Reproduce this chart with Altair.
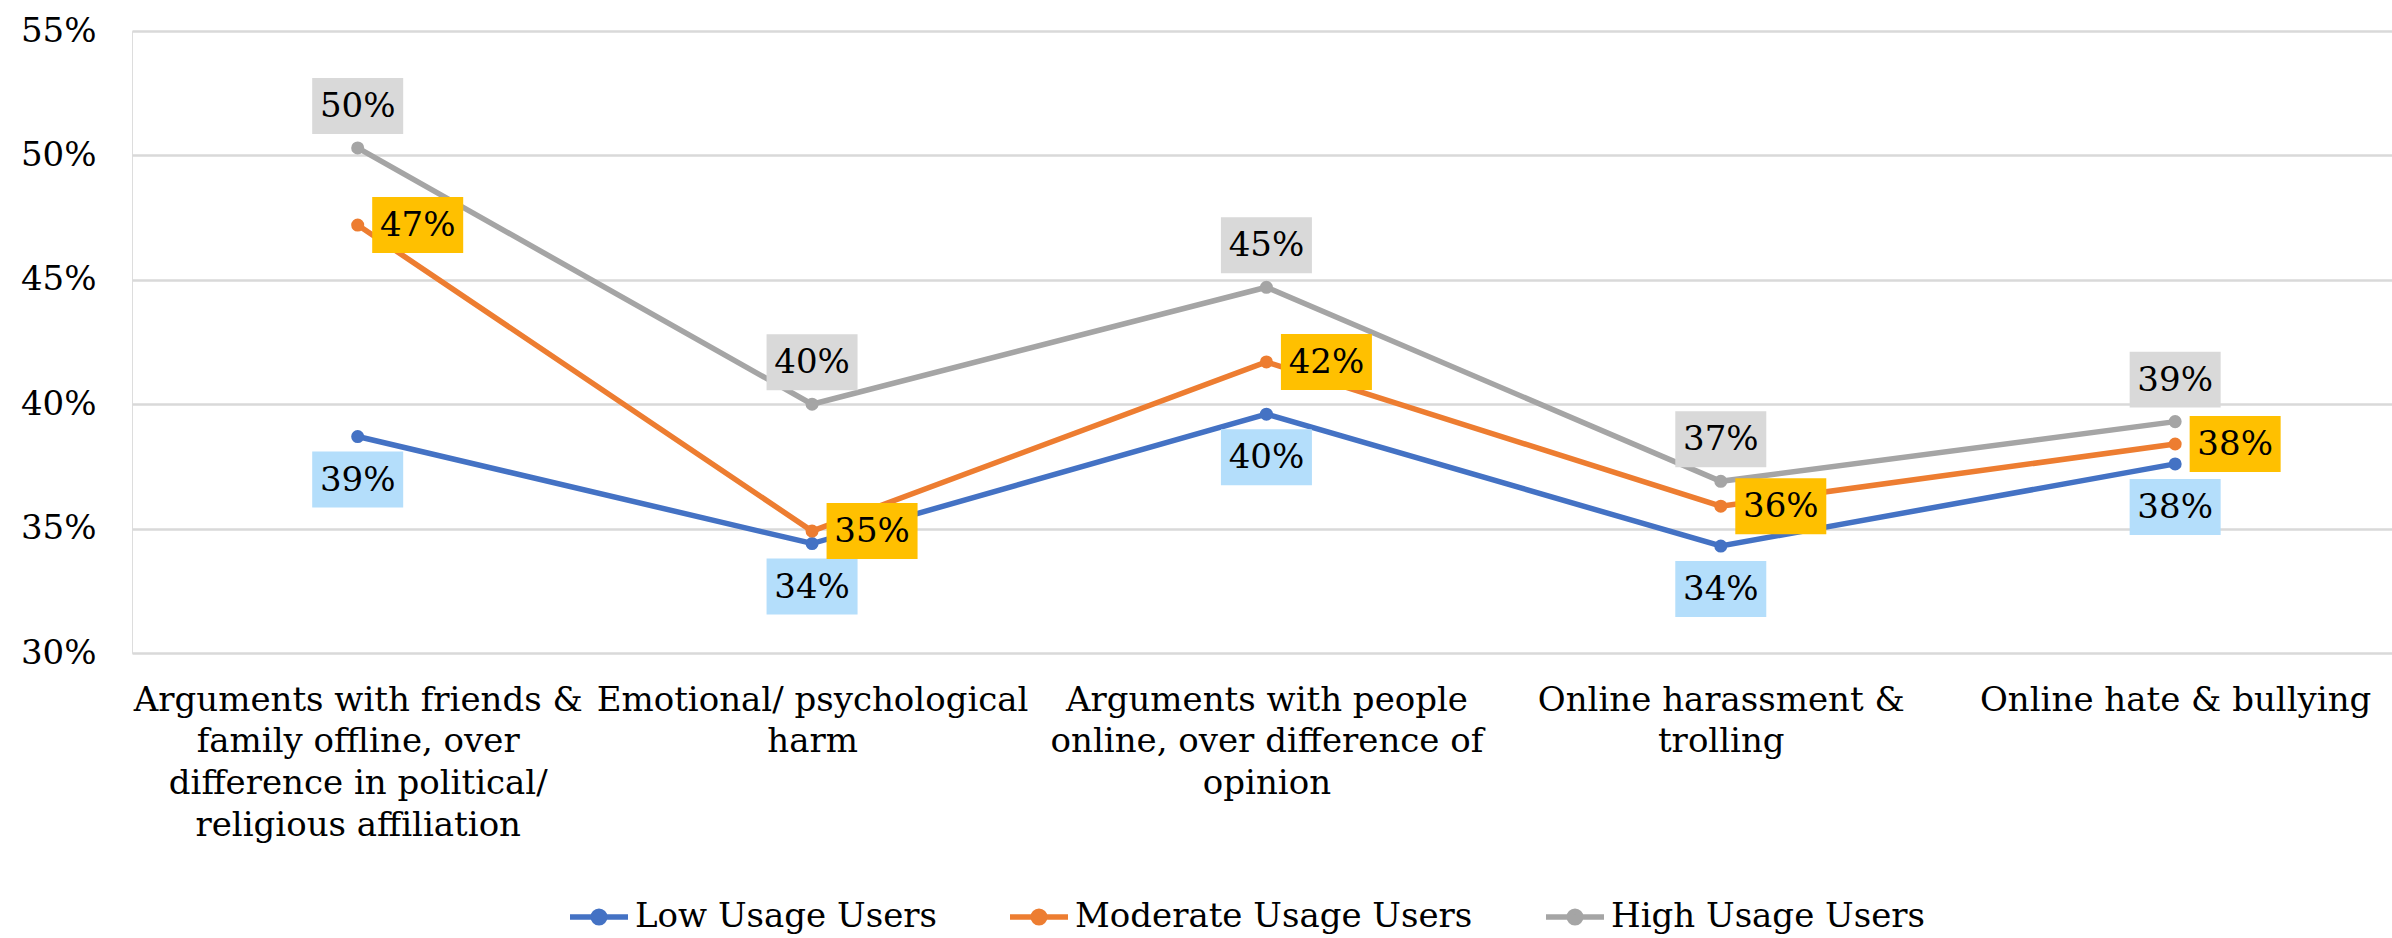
import altair as alt
import pandas as pd

# Categories (x axis) and their wrapped label lines
categories = [
    "Arguments with friends & family offline, over difference in political/ religious affiliation",
    "Emotional/ psychological harm",
    "Arguments with people online, over difference of opinion",
    "Online harassment & trolling",
    "Online hate & bullying",
]
category_lines = [
    ["Arguments with friends &", "family offline, over", "difference in political/", "religious affiliation"],
    ["Emotional/ psychological", "harm"],
    ["Arguments with people", "online, over difference of", "opinion"],
    ["Online harassment &", "trolling"],
    ["Online hate & bullying"],
]

# Series and values (share of users)
series = ["Low Usage Users", "Moderate Usage Users", "High Usage Users"]
low = [0.387, 0.344, 0.396, 0.343, 0.376]
moderate = [0.472, 0.349, 0.417, 0.359, 0.384]
high = [0.503, 0.400, 0.447, 0.369, 0.393]

y_ticks = [0.30, 0.35, 0.40, 0.45, 0.50, 0.55]

line_colors = ["#4472C4", "#ED7D31", "#A5A5A5"]
box_colors = ["#B4DEFB", "#FFC000", "#D9D9D9"]
# pixel offsets of each series' value box relative to its point
box_offsets = [(0, 43), (60, 0), (0, -42)]

FONT = "DejaVu Serif"

rows = []
for name, vals in zip(series, [low, moderate, high]):
    for cat, v in zip(categories, vals):
        rows.append({"series": name, "category": cat, "value": v})
df = pd.DataFrame(rows)

# multi-line axis labels
label_expr = ""
for cat, lines in zip(categories, category_lines):
    arr = "[" + ",".join("'" + l.replace("'", "\\'") + "'" for l in lines) + "]"
    label_expr += f"datum.label == '{cat}' ? {arr} : "
label_expr += "datum.label"

x_enc = alt.X(
    "category:N",
    sort=categories,
    scale=alt.Scale(type="point", padding=0.487, align=0.51),
    axis=alt.Axis(
        title=None, labelAngle=0, labelExpr=label_expr, labelFont=FONT,
        labelFontSize=34, labelLineHeight=41.7, labelPadding=30,
        labelColor="#000000", domain=False, ticks=False, labelLimit=0,
    ),
)
y_enc = alt.Y(
    "value:Q",
    scale=alt.Scale(domain=[0.30, 0.55], nice=False, zero=False),
    axis=alt.Axis(
        title=None, format=".0%", values=y_ticks, grid=True,
        gridColor="#D9D9D9", gridWidth=2.5, domain=False, ticks=False,
        labelPadding=36, labelFont=FONT, labelFontSize=34, labelColor="#000000",
    ),
)
color_enc = alt.Color(
    "series:N",
    sort=series,
    scale=alt.Scale(domain=series, range=line_colors),
    legend=alt.Legend(
        title=None, orient="none", direction="horizontal",
        legendX=435, legendY=854,
        labelFont=FONT, labelFontSize=34, labelColor="#000000",
        symbolType="M-1,0H1M0.2,0A0.2,0.2,0,1,1,-0.2,0A0.2,0.2,0,1,1,0.2,0Z",
        symbolSize=3364, symbolStrokeWidth=5.5, labelOffset=4,
        columnPadding=62, labelLimit=0,
    ),
)

base = alt.Chart(df)

lines = base.mark_line(
    strokeWidth=5.5,
    point=alt.OverlayMarkDef(filled=True, size=170),
).encode(x=x_enc, y=y_enc, color=color_enc, detail="series:N")

layers = [lines]
box_shape = "M-1,-0.615H1V0.615H-1Z"
for name, bcol, (dx, dy) in zip(series, box_colors, box_offsets):
    sub = base.transform_filter(alt.datum.series == name)
    box = sub.mark_point(
        shape=box_shape, filled=True, fill=bcol, opacity=1, strokeWidth=0,
        size=91 * 91, xOffset=dx, yOffset=dy,
    ).encode(x=alt.X("category:N", sort=categories), y="value:Q")
    txt = sub.mark_text(
        font=FONT, fontSize=34, color="#000000", baseline="middle",
        align="center", dx=dx, dy=dy + 1,
    ).encode(
        x=alt.X("category:N", sort=categories),
        y="value:Q",
        text=alt.Text("value:Q", format=".0%"),
    )
    layers += [box, txt]

chart = alt.layer(*layers).properties(
    width=2260,
    height=622,
    padding={"left": 132, "top": 31, "right": 0, "bottom": 285},
    autosize=alt.AutoSizeParams(type="none"),
    background="#FFFFFF",
).configure_view(stroke=None).configure(font=FONT)

chart.save("out.html", embed_options={"renderer": "svg", "actions": False})
